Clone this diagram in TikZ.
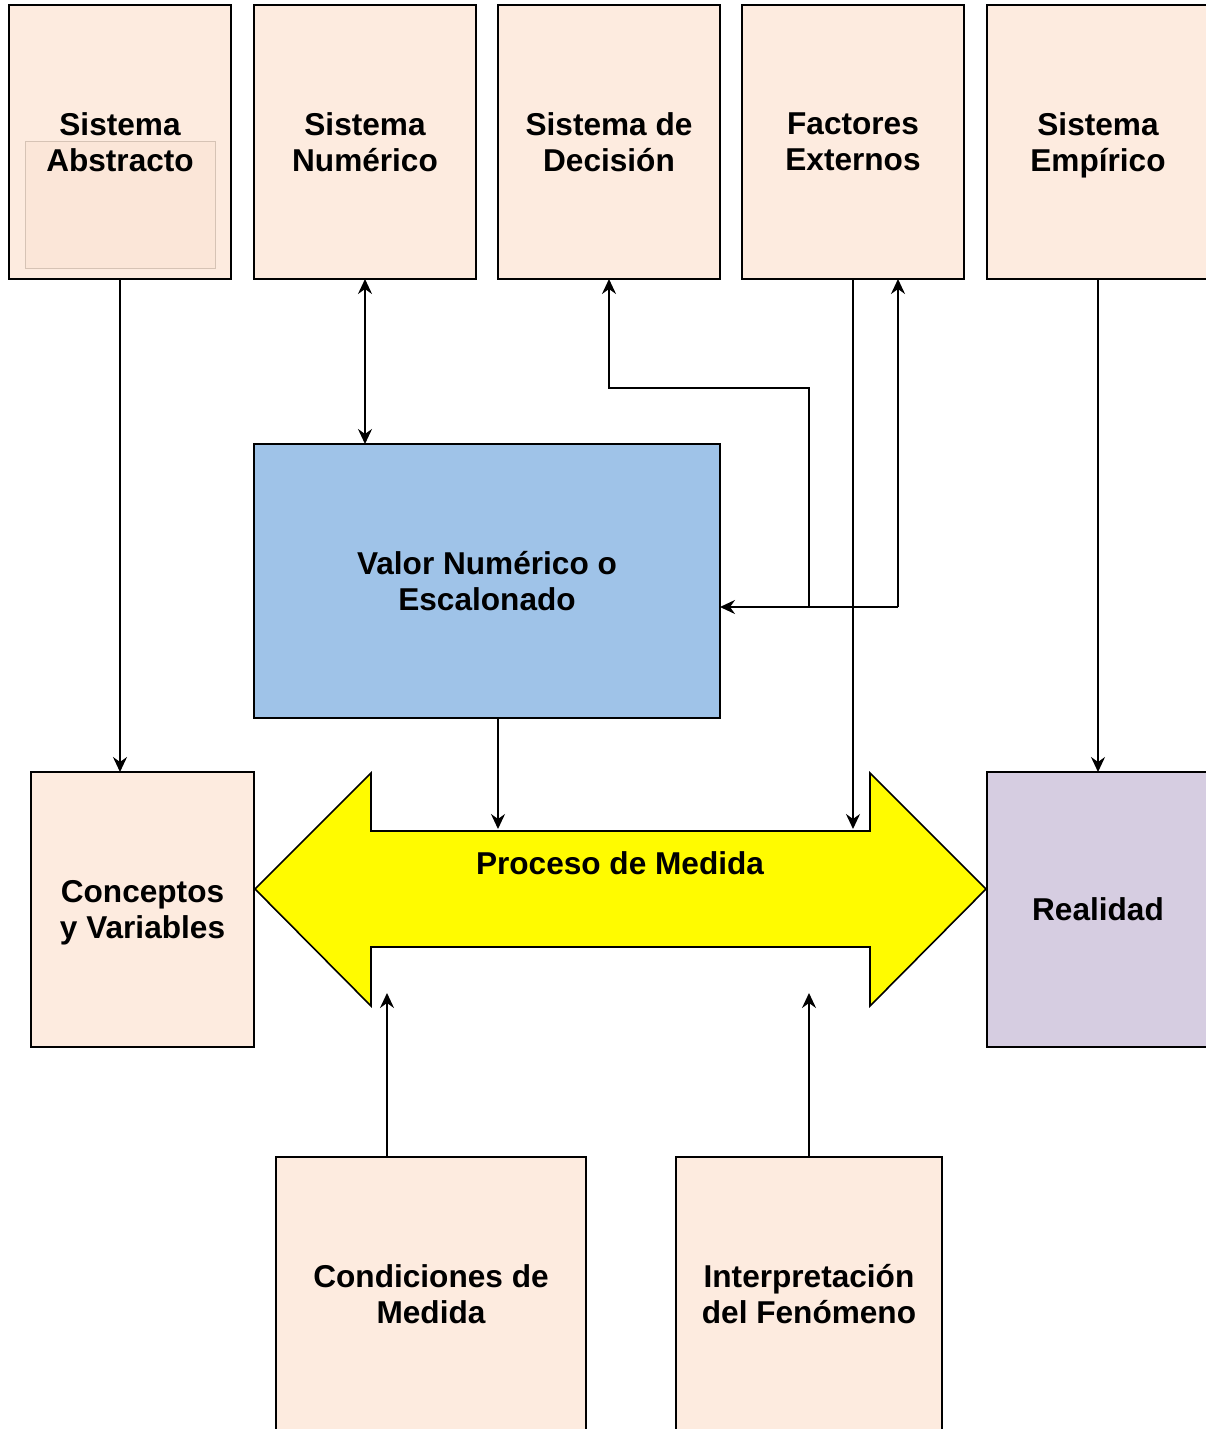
\documentclass[tikz,border=0pt]{standalone}
\usepackage{fontspec}
\setmainfont{Liberation Sans}
\usetikzlibrary{arrows.meta}
\definecolor{peach}{HTML}{FDEBDF}
\definecolor{peachin}{HTML}{FBE6D8}
\definecolor{peachline}{HTML}{D6C3B5}
\definecolor{valblue}{HTML}{9FC3E8}
\definecolor{lilac}{HTML}{D6CDE1}
\definecolor{arrowyellow}{HTML}{FFFB00}
\begin{document}
\begin{tikzpicture}[x=1pt,y=-1pt,
  labelfont/.style={font=\bfseries\fontsize{31.6}{36}\selectfont},
  % text depth=0pt keeps descenders of the last line from lifting the label
  box/.style={draw=black, line width=1.8pt, fill=peach, inner sep=0pt, outer sep=0pt,
    align=center, labelfont, text depth=0pt,
    minimum width=222pt, minimum height=274pt},
  conn/.style={line width=1.8pt, draw=black},
  tip/.style={-{Stealth[length=15pt,width=14pt,inset=5pt]}},
  bitip/.style={{Stealth[length=15pt,width=14pt,inset=5pt]}-{Stealth[length=15pt,width=14pt,inset=5pt]}},
  innerline/.style={draw=peachline, line width=0.9pt, fill=peachin}]
\useasboundingbox (0,0) rectangle (1206,1429);
\clip (0,0) rectangle (1206,1429);

% upper row of systems
\node[box, path picture={
    \draw[innerline] ([xshift=16pt,yshift=-136pt]path picture bounding box.north west)
      rectangle ([xshift=-16pt,yshift=11pt]path picture bounding box.south east);}]
  (abs) at (120,142) {Sistema\\Abstracto};
\node[box] (num) at (365,142) {Sistema\\Numérico};
\node[box] (dec) at (609,142) {Sistema de\\Decisión};
\node[box] (ext) at (853,142) {Factores\\Externos};
\node[box] (emp) at (1098,142) {Sistema\\Empírico};

% central value
\node[box, fill=valblue, minimum width=466pt] (val) at (487,581) {Valor Numérico o\\Escalonado};

% side boxes
\node[box, minimum width=223pt, minimum height=275pt] (con) at (142.5,909.5) {Conceptos\\y Variables};
\node[box, fill=lilac, minimum height=275pt] (rea) at (1098,909.5) {Realidad};

% lower boxes
\node[box, minimum width=310pt] (cond) at (431,1294) {Condiciones de\\Medida};
\node[box, minimum width=266pt] (int) at (809,1294) {Interpretación\\del Fenómeno};

% measurement process double arrow
\draw[line width=1.6pt, fill=arrowyellow]
  (255,889) -- (371,773) -- (371,831) -- (870,831) -- (870,773) -- (986,889)
  -- (870,1006) -- (870,947) -- (371,947) -- (371,1006) -- cycle;
\node[labelfont] (pm) at (620,863) {Proceso de Medida};

% connector end points on the process arrow
\coordinate (pmtopa) at (498,829);
\coordinate (pmtopb) at (853,829);
\coordinate (pmbota) at (387,993);
\coordinate (pmbotb) at (809,993);
\coordinate (jdec) at (809,607);
\coordinate (jext) at (898,607);

% connectors
\draw[conn, tip] (abs.south) -- (con.north -| abs.south);
\draw[conn, bitip] (num.south) -- (val.north -| num.south);
\draw[conn, tip] (jdec) -- (809,388) -| (dec.south);
\draw[conn, tip] (jext) -- (jext |- ext.south);
\draw[conn, tip] (jext) -- (val.east |- jext);
\draw[conn, tip] (ext.south) -- (pmtopb);
\draw[conn, tip] (val.south -| pmtopa) -- (pmtopa);
\draw[conn, tip] (emp.south) -- (rea.north);
\draw[conn, tip] (cond.north -| pmbota) -- (pmbota);
\draw[conn, tip] (int.north) -- (pmbotb);
\end{tikzpicture}
\end{document}
